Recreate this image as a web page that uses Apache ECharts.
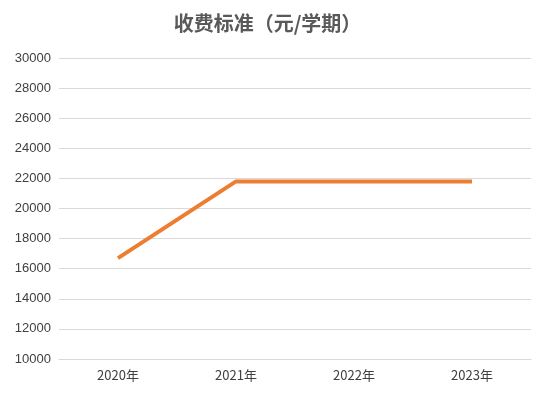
<!DOCTYPE html>
<html>
<head>
<meta charset="utf-8">
<script src="https://cdn.jsdelivr.net/npm/echarts@6/dist/echarts.min.js"></script>
<style>html,body{margin:0;padding:0;background:#fff}#c{width:535px;height:401px}</style>
</head>
<body>
<div id="c"></div>
<script>
// 收费标准数据
const years = ['2020年', '2021年', '2022年', '2023年'];
const fees = [16700, 21800, 21800, 21800];

const chart = echarts.init(document.getElementById('c'));
chart.setOption({
  animation: false,
  title: {
    text: '收费标准（元/学期）', left: 'center', top: 8,
    textStyle: { fontSize: 20, fontWeight: 'bold', color: '#595959', fontFamily: 'Noto Sans CJK SC' }
  },
  grid: { left: 59, right: 4, top: 58, bottom: 42 },
  xAxis: {
    type: 'category', data: years, boundaryGap: true,
    axisLine: { lineStyle: { color: '#d9d9d9' } },
    axisTick: { show: false },
    axisLabel: { color: '#404040', fontSize: 13, margin: 10, fontFamily: 'Noto Sans CJK SC' }
  },
  yAxis: {
    type: 'value', min: 10000, max: 30000, interval: 2000,
    axisLine: { show: false }, axisTick: { show: false },
    axisLabel: { color: '#404040', fontSize: 13, margin: 8, formatter: v => String(v) },
    splitLine: { lineStyle: { color: '#d9d9d9' } }
  },
  series: [{
    type: 'line', data: fees, symbol: 'circle', symbolSize: 1, showSymbol: true,
    itemStyle: { color: '#ED7D31', opacity: 0 },
    lineStyle: { color: '#ED7D31', width: 4, opacity: 1 },
    label: { show: true, position: 'bottom', distance: 16, fontSize: 16, fontWeight: 'bold', color: '#000' }
  }]
});
</script>
</body>
</html>
